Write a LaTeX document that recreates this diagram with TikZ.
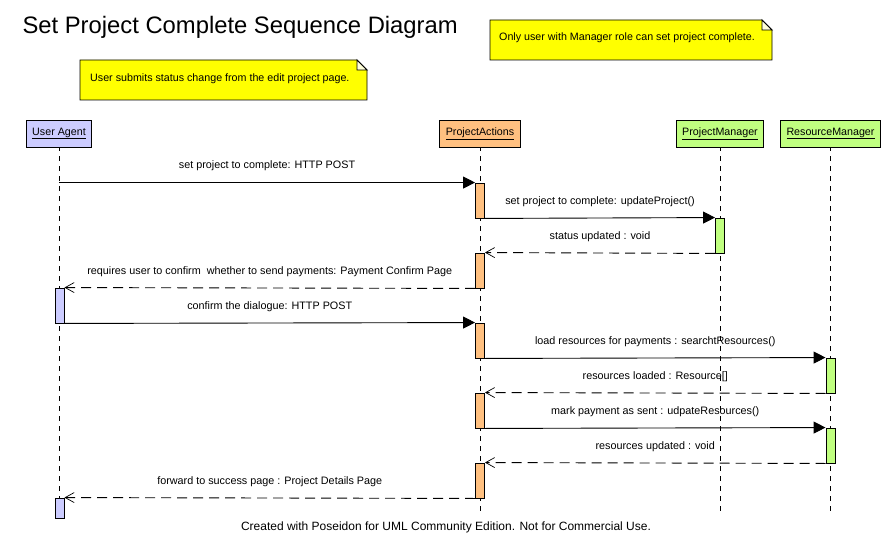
\documentclass[tikz,border=0pt]{standalone}
\usepackage{fontspec}
\setmainfont{Liberation Sans}
\usetikzlibrary{arrows.meta}
\definecolor{uablue}{RGB}{204,204,255}
\definecolor{paorange}{RGB}{255,192,128}
\definecolor{mgrgreen}{RGB}{192,255,128}
\definecolor{noteyellow}{RGB}{255,255,0}
\tikzset{
  head/.style={draw,line width=0.9pt,minimum height=27pt,inner xsep=6pt,font=\fontsize{10.7}{12}\selectfont},
  lifeline/.style={line width=0.9pt,dash pattern=on 5pt off 5pt},
  actbar/.style={draw,line width=0.9pt,minimum width=9pt,minimum height=35pt,inner sep=0pt},
  call/.style={line width=0.9pt,-{Triangle[length=12pt,width=12pt]}},
  reply/.style={line width=0.9pt,dash pattern=on 10pt off 6pt,-{Straight Barb[length=9pt,width=10pt,line width=0.7pt]}},
  msg/.style={midway,yshift=16.5pt,font=\fontsize{10.8}{12}\selectfont},
  note/.style={draw,line width=0.9pt,fill=noteyellow},
  notetext/.style={anchor=west,inner sep=0pt,font=\fontsize{10.7}{12}\selectfont},
}
\begin{document}
\begin{tikzpicture}[x=1pt,y=-1pt]
    \useasboundingbox[fill=white] (0,0) rectangle (893,553);
    \node[anchor=west,font=\fontsize{23.8}{28}\selectfont] (title) at (19,27) {Set Project Complete Sequence Diagram};
    % notes
    \draw[note] (80,60) -- (357,60) -- (367,70) -- (367,100) -- (80,100) -- cycle;
    \draw[line width=0.9pt,fill=noteyellow!15] (357,60) -- (357,70) -- (367,70) -- cycle;
    \node[notetext] (note1) at (90,79) {User submits status change from the edit project page.};
    \draw[note] (490,20) -- (762,20) -- (772,30) -- (772,60) -- (490,60) -- cycle;
    \draw[line width=0.9pt,fill=noteyellow!15] (762,20) -- (762,30) -- (772,30) -- cycle;
    \node[notetext] (note2) at (499,38) {Only user with Manager role can set project complete.};
    % lifeline heads
    \node[head,fill=uablue] (ua) at (59,133.5) {\underline{User Agent}};
    \node[head,fill=paorange] (pa) at (480,133.5) {\underline{ProjectActions}};
    \node[head,fill=mgrgreen] (pm) at (720,133.5) {\underline{ProjectManager}};
    \node[head,fill=mgrgreen] (rm) at (830.5,133.5) {\underline{ResourceManager}};
    \coordinate (bottom) at (0,515);
    \foreach \h in {ua,pa,pm,rm}{\draw[lifeline,dash phase=1pt] (\h.south) -- (\h |- bottom);}
    % activation bars
    \foreach \i/\y in {1/200.5,2/270.5,3/340.5,4/410.5,5/480.5}{\node[actbar,fill=paorange] (pa\i) at (480,\y) {};}
    \node[actbar,fill=mgrgreen] (pm1) at (720,235.5) {};
    \node[actbar,fill=uablue] (ua1) at (59.5,305.5) {};
    \node[actbar,fill=mgrgreen] (rm1) at (830.5,375.5) {};
    \node[actbar,fill=mgrgreen] (rm2) at (830.5,445.5) {};
    \node[actbar,fill=uablue,minimum height=20pt] (ua2) at (59.5,508) {};
    % messages
    \draw[call] (ua |- pa1.north) -- (pa1.north west) node[msg] {set project to complete: HTTP POST};
    \draw[call] (pa1.south east) -- (pm1.north west) node[msg] {set project to complete: updateProject()};
    \draw[reply] (pm1.south west) -- (pa2.north east) node[msg] {status updated : void};
    \draw[reply] (pa2.south west) -- (ua1.north east) node[msg] {requires user to confirm\ \ whether to send payments: Payment Confirm Page};
    \draw[call] (ua1.south east) -- (pa3.north west) node[msg] {confirm the dialogue: HTTP POST};
    \draw[call] (pa3.south east) -- (rm1.north west) node[msg] {load resources for payments : searchtResources()};
    \draw[reply] (rm1.south west) -- (pa4.north east) node[msg] {resources loaded : Resource[]};
    \draw[call] (pa4.south east) -- (rm2.north west) node[msg] {mark payment as sent : udpateResources()};
    \draw[reply] (rm2.south west) -- (pa5.north east) node[msg] {resources updated : void};
    \draw[reply] (pa5.south west) -- (ua2.north east) node[msg] {forward to success page : Project Details Page};
    \node[font=\fontsize{12}{14}\selectfont] (credit) at (446,527) {Created with Poseidon for UML Community Edition. Not for Commercial Use.};
\end{tikzpicture}
\end{document}
